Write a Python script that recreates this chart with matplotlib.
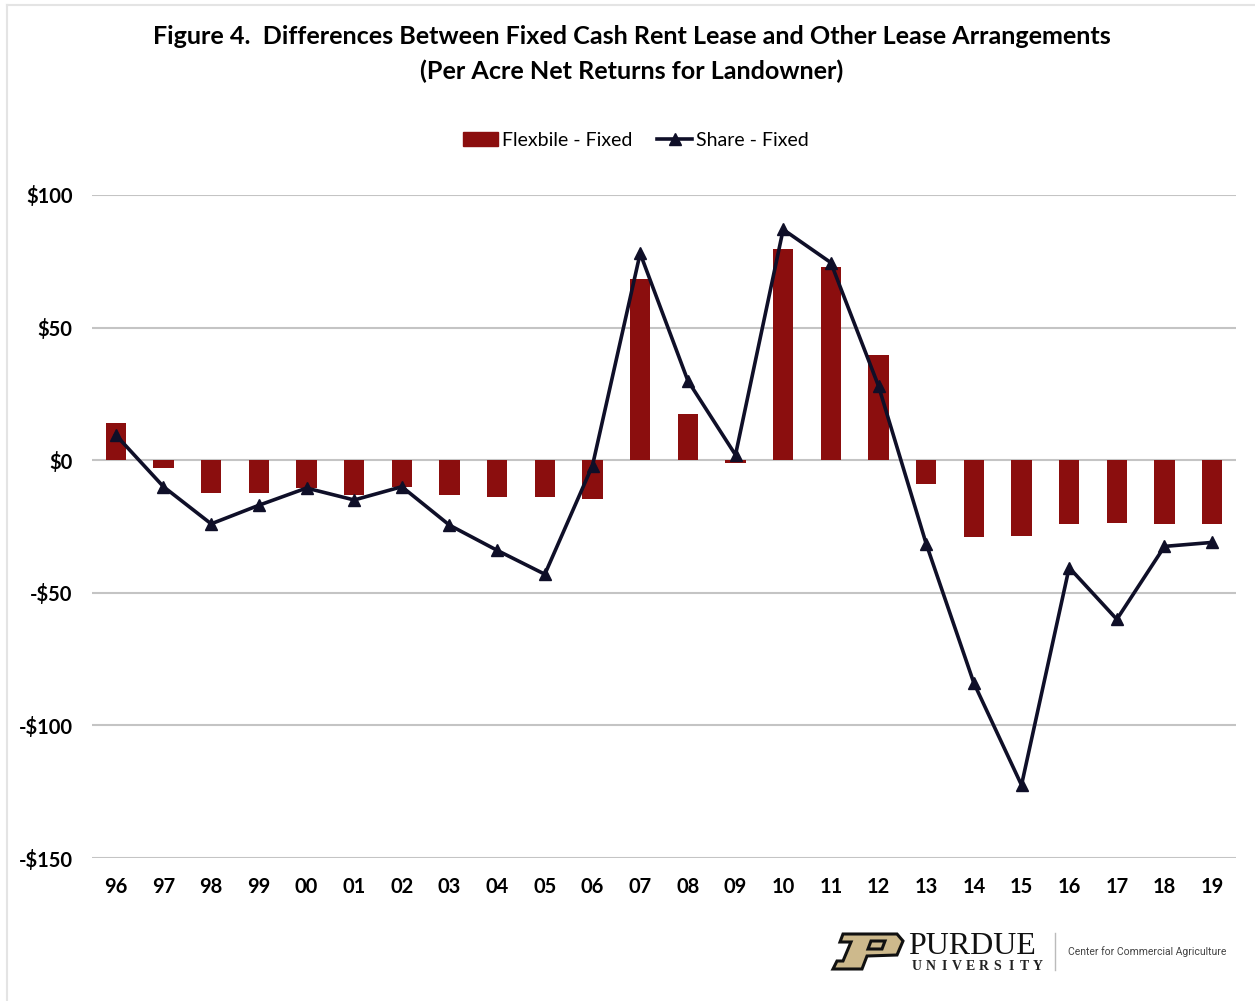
#!/usr/bin/python3

# Figure 4: fixed cash rent vs other lease arrangements, per acre net returns

import numpy as np
import matplotlib.pyplot as plt
import matplotlib.patches as mpatches
import matplotlib.path as mpath
from matplotlib.lines import Line2D

years = ['96', '97', '98', '99', '00', '01', '02', '03', '04', '05', '06', '07',
         '08', '09', '10', '11', '12', '13', '14', '15', '16', '17', '18', '19']
flexible_fixed = [14, -3, -12.5, -12.5, -10.5, -13, -10, -13, -14, -14, -14.5,
                  68.5, 17.5, -1, 79.5, 73, 39.5, -9, -29, -28.5, -24, -23.5,
                  -24, -24]
share_fixed = [9.5, -10, -24, -17, -10.5, -15, -10, -24.5, -34, -43, -2,
               78, 30, 2, 87, 74.5, 28, -31.5, -84, -122.5, -40.5, -60,
               -32.5, -31]
y_ticks = [100, 50, 0, -50, -100, -150]
y_tick_labels = ['$100', '$50', '$0', '-$50', '-$100', '-$150']

BAR_COLOR = '#8B0E0E'
LINE_COLOR = '#0F0F28'
GRID_COLOR = '#C4C4C4'
FONT = ['Lato', 'DejaVu Sans']

W, H = 1255, 1001
fig = plt.figure(figsize=(W / 100, H / 100), dpi=100)
plt.rcParams['font.family'] = FONT


def px(x, y):
    """Pixel position (y down) to figure fraction."""
    return x / W, 1 - y / H


ax = fig.add_axes([92 / W, 1 - 858 / H, (1236 - 92) / W, (858 - 195) / H])
x = np.arange(len(years))
ax.bar(x, flexible_fixed, width=0.42, color=BAR_COLOR, zorder=2,
       label='Flexbile - Fixed')
ax.plot(x, share_fixed, color=LINE_COLOR, lw=2.6, marker='^', ms=8.5,
        zorder=3, label='Share - Fixed')

ax.set_xlim(-0.5, len(years) - 0.5)
ax.set_ylim(-150, 100)
ax.set_yticks(y_ticks)
ax.set_yticklabels(y_tick_labels, fontsize=14.5, fontweight='bold')
ax.set_xticks(x)
ax.set_xticklabels(years, fontsize=14.5, fontweight='bold')
ax.tick_params(axis='both', length=0, colors='#000000')
ax.tick_params(axis='y', pad=14)
ax.tick_params(axis='x', pad=14)
ax.yaxis.grid(True, color=GRID_COLOR, lw=1.5, zorder=0)
ax.set_axisbelow(True)
for s in ax.spines.values():
    s.set_visible(False)

# title
fig.text(0.5035, 1 - 36 / H,
         'Figure 4.  Differences Between Fixed Cash Rent Lease and Other Lease Arrangements',
         ha='center', va='center', fontsize=18.1, fontweight='bold')
fig.text(0.5035, 1 - 71 / H, '(Per Acre Net Returns for Landowner)',
         ha='center', va='center', fontsize=18.1, fontweight='bold')

# legend
handles = [mpatches.Patch(color=BAR_COLOR),
           Line2D([], [], color=LINE_COLOR, lw=2.6, marker='^', ms=8.5)]
fig.legend(handles, ['Flexbile - Fixed', 'Share - Fixed'],
           loc='center', bbox_to_anchor=px(636, 140), ncol=2, frameon=False,
           fontsize=14, handlelength=1.8, handletextpad=0.2,
           columnspacing=1.3)

# frame lines on top and left
fig.add_artist(Line2D([px(7, 0)[0], 1], [px(0, 5)[1]] * 2, color='#E4E4E4',
                      lw=1.5, transform=fig.transFigure))
fig.add_artist(Line2D([px(7, 0)[0]] * 2, [0, px(0, 5)[1]], color='#E4E4E4',
                      lw=1.5, transform=fig.transFigure))

# Purdue logo
outer = [(843, 934), (897, 934), (903, 941), (897, 955), (867, 956),
         (862, 969), (833, 969), (837, 961), (843, 961), (851, 942),
         (840, 942), (843, 934)]
hole = [(871, 941), (885, 941), (882, 949), (868, 949), (871, 941)]
verts = [px(*p) for p in outer] + [px(*p) for p in hole]
codes = ([mpath.Path.MOVETO] + [mpath.Path.LINETO] * (len(outer) - 2) +
         [mpath.Path.CLOSEPOLY] + [mpath.Path.MOVETO] +
         [mpath.Path.LINETO] * (len(hole) - 2) + [mpath.Path.CLOSEPOLY])
fig.add_artist(mpatches.PathPatch(mpath.Path(verts, codes), fc='#CDB98C',
                                  ec='#111111', lw=2.2,
                                  transform=fig.transFigure))
fig.text(*px(908, 946), 'PURDUE', ha='left', va='center', fontsize=23,
         family='Liberation Serif', color='#111111')
for i, ch in enumerate('UNIVERSITY'):
    fig.text(*px(917 + i * 13.4, 966), ch, ha='center', va='center',
             fontsize=10, family='Liberation Serif', fontweight='bold',
             color='#222222')
fig.add_artist(Line2D([px(1055, 0)[0]] * 2, [px(0, 933)[1], px(0, 970)[1]],
                      color='#BBBBBB', lw=1, transform=fig.transFigure))
fig.text(*px(1068, 952), 'Center for Commercial Agriculture', ha='left',
         va='center', fontsize=7.5, family='Roboto', color='#444444')

fig.savefig('out.png', dpi=100, facecolor='white')
